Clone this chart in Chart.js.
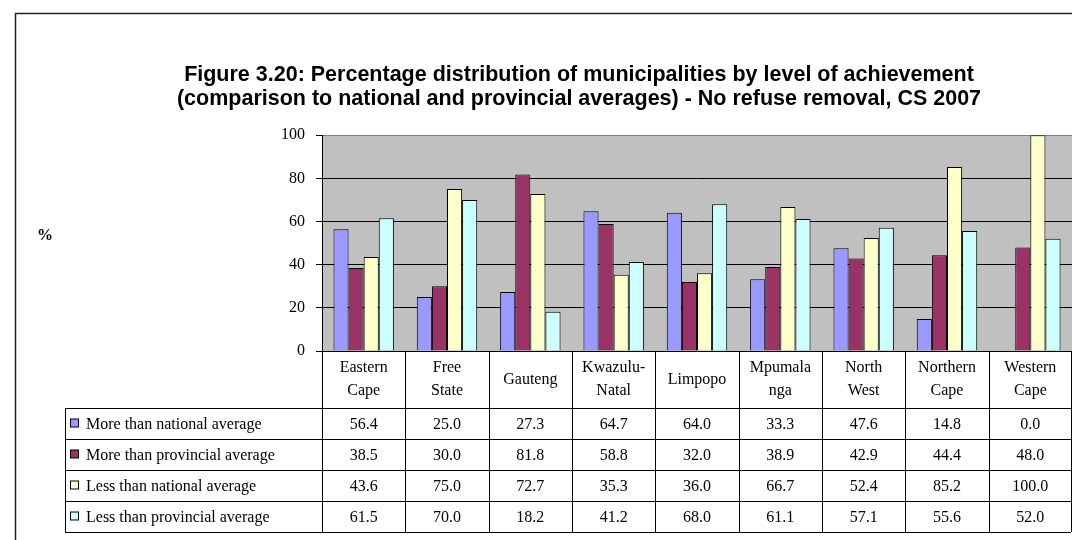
<!DOCTYPE html>
<html>
<head>
<meta charset="utf-8">
<script src="https://cdn.jsdelivr.net/npm/chart.js@4.4.1/dist/chart.umd.min.js"></script>
<style>
  html, body { margin: 0; padding: 0; background: #fff; }
  #wrap { width: 1072px; height: 540px; position: relative; }
</style>
</head>
<body>
<div id="wrap"><canvas id="chart" width="1072" height="540"></canvas></div>
<script>
// --- data ---
const categories = [
  ["Eastern", "Cape"], ["Free", "State"], ["Gauteng"], ["Kwazulu-", "Natal"],
  ["Limpopo"], ["Mpumala", "nga"], ["North", "West"], ["Northern", "Cape"], ["Western", "Cape"]
];
const seriesNames = [
  "More than national average",
  "More than provincial average",
  "Less than national average",
  "Less than provincial average"
];
const moreNational   = [56.4, 25.0, 27.3, 64.7, 64.0, 33.3, 47.6, 14.8, 0.0];
const moreProvincial = [38.5, 30.0, 81.8, 58.8, 32.0, 38.9, 42.9, 44.4, 48.0];
const lessNational   = [43.6, 75.0, 72.7, 35.3, 36.0, 66.7, 52.4, 85.2, 100.0];
const lessProvincial = [61.5, 70.0, 18.2, 41.2, 68.0, 61.1, 57.1, 55.6, 52.0];
const yTicks = [0, 20, 40, 60, 80, 100];

const titleLines = [
  "Figure 3.20: Percentage distribution of municipalities by level of achievement",
  "(comparison to national and provincial averages) - No refuse removal, CS 2007"
];

const COLORS = ["#9999ff", "#993366", "#ffffcc", "#ccffff"];
const SERIF = "'Liberation Serif', 'Times New Roman', serif";
const HEADER_H = 57;
const ROW_H = 31;
const TABLE_LEFT = 65;

const allSeries = [moreNational, moreProvincial, lessNational, lessProvincial];

// grey plot background
const plotBg = {
  id: "plotBg",
  beforeDraw(chart) {
    const { ctx, chartArea: a } = chart;
    ctx.save();
    ctx.fillStyle = "#c0c0c0";
    ctx.fillRect(a.left, a.top, a.right - a.left, a.bottom - a.top);
    ctx.restore();
  }
};

// data table under the plot + outer frame + "%" label
const dataTable = {
  id: "dataTable",
  afterDraw(chart) {
    const { ctx, chartArea: a } = chart;
    const n = categories.length;
    const colW = (a.right - a.left) / n;
    const right = a.right - 1;
    const top = a.bottom;
    const rowsTop = top + HEADER_H;
    const bottom = rowsTop + ROW_H * seriesNames.length;

    ctx.save();
    ctx.strokeStyle = "#000";
    ctx.lineWidth = 1;

    const hl = (x0, x1, y) => { ctx.beginPath(); ctx.moveTo(x0, y); ctx.lineTo(x1, y); ctx.stroke(); };
    const vl = (x, y0, y1) => { ctx.beginPath(); ctx.moveTo(x, y0); ctx.lineTo(x, y1); ctx.stroke(); };
    for (let r = 0; r <= seriesNames.length; r++) {
      hl(TABLE_LEFT, right, Math.round(rowsTop + r * ROW_H) + 0.5);
    }
    vl(TABLE_LEFT + 0.5, rowsTop, bottom);
    for (let i = 0; i <= n; i++) {
      const x = Math.round(a.left + i * colW) + 0.5;
      vl(Math.min(x, right + 0.5), top, bottom);
    }

    // category headers
    ctx.fillStyle = "#000";
    ctx.font = "16px " + SERIF;
    ctx.textAlign = "center";
    ctx.textBaseline = "middle";
    categories.forEach((lines, i) => {
      const cx = a.left + (i + 0.5) * colW;
      const cy = top + HEADER_H / 2;
      if (lines.length === 1) ctx.fillText(lines[0], cx, cy);
      else {
        ctx.fillText(lines[0], cx, cy - 11.5);
        ctx.fillText(lines[1], cx, cy + 11.5);
      }
    });

    // rows
    seriesNames.forEach((name, r) => {
      const cy = rowsTop + r * ROW_H + ROW_H / 2;
      ctx.fillStyle = COLORS[r];
      ctx.fillRect(70.5, cy - 4.5, 8, 8);
      ctx.strokeRect(70.5, cy - 4.5, 8, 8);
      ctx.fillStyle = "#000";
      ctx.textAlign = "left";
      ctx.fillText(name, 86, cy + 1);
      ctx.textAlign = "center";
      allSeries[r].forEach((v, i) => {
        ctx.fillText(v.toFixed(1), a.left + (i + 0.5) * colW, cy + 1);
      });
    });

    // "%" label
    ctx.font = "bold 16px " + SERIF;
    ctx.fillText("%", 45, 236);

    // outer frame (left and top edges)
    ctx.strokeStyle = "#222";
    ctx.lineWidth = 1.5;
    ctx.beginPath();
    ctx.moveTo(15.5, 540);
    ctx.lineTo(15.5, 13.5);
    ctx.lineTo(1072, 13.5);
    ctx.stroke();
    ctx.restore();
  }
};

new Chart(document.getElementById("chart"), {
  type: "bar",
  data: {
    labels: categories,
    datasets: seriesNames.map((name, i) => ({
      label: name,
      data: allSeries[i],
      backgroundColor: COLORS[i],
      borderColor: "#000",
      borderWidth: 1,
      categoryPercentage: 0.725,
      barPercentage: 1.0,
    })),
  },
  options: {
    responsive: false,
    devicePixelRatio: 1,
    animation: false,
    layout: { padding: { left: 86, right: 0, top: 0, bottom: 189 } },
    plugins: {
      legend: { display: false },
      tooltip: { enabled: false },
      title: {
        display: true,
        text: titleLines,
        color: "#000",
        font: { family: "'Liberation Sans', Arial, sans-serif", size: 21.5, weight: "bold", lineHeight: 1.12 },
        padding: { top: 63, bottom: 24 },
      },
    },
    scales: {
      x: { display: false },
      y: {
        min: 0,
        max: 100,
        afterFit: (s) => { s.width = 236; },
        afterBuildTicks: (s) => { s.ticks = yTicks.map(v => ({ value: v })); },
        ticks: { color: "#000", font: { family: SERIF, size: 16 }, padding: 11 },
        grid: {
          color: (c) => c.tick && c.tick.value === 100 ? "#808080" : "#000",
          tickColor: "#000",
          tickLength: 6,
        },
        border: { color: "#000", width: 1 },
      },
    },
  },
  plugins: [plotBg, dataTable],
});
</script>
</body>
</html>
